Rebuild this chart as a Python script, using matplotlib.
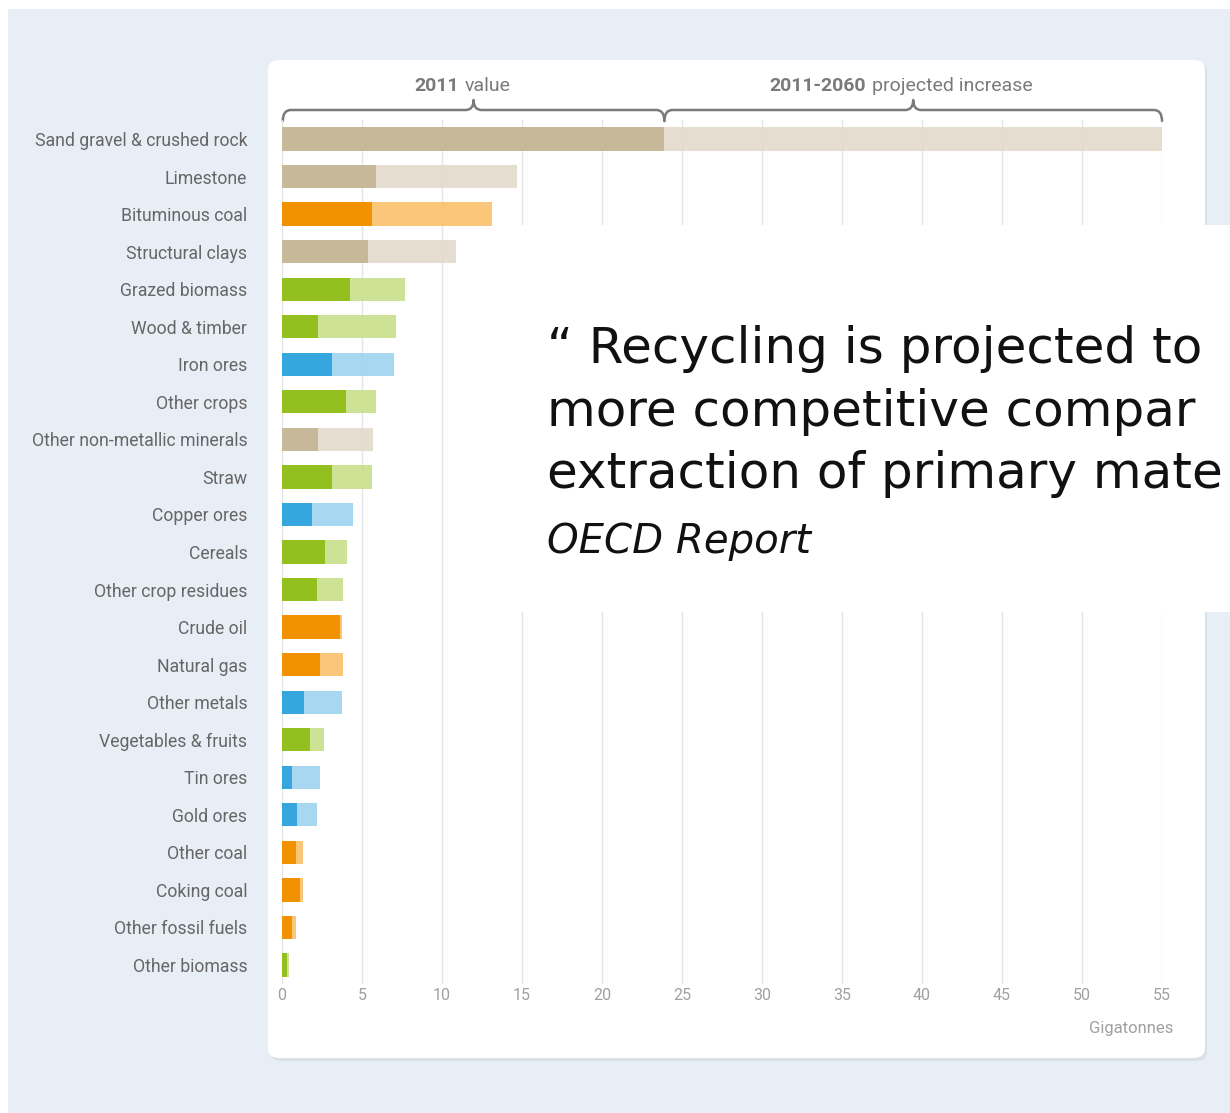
import matplotlib
matplotlib.use("Agg")
import matplotlib.pyplot as plt
from matplotlib.patches import FancyBboxPatch, Rectangle, PathPatch
from matplotlib.path import Path
from matplotlib import transforms

W, H = 1230, 1113

# Global material extraction, Gt: 2011 level and projected 2060 level
materials = [
    "Sand gravel & crushed rock", "Limestone", "Bituminous coal", "Structural clays",
    "Grazed biomass", "Wood & timber", "Iron ores", "Other crops",
    "Other non-metallic minerals", "Straw", "Copper ores", "Cereals",
    "Other crop residues", "Crude oil", "Natural gas", "Other metals",
    "Vegetables & fruits", "Tin ores", "Gold ores", "Other coal",
    "Coking coal", "Other fossil fuels", "Other biomass",
]
value_2011 = [23.9, 5.9, 5.6, 5.4, 4.25, 2.25, 3.1, 4.0, 2.25, 3.1, 1.9, 2.7,
              2.2, 3.6, 2.35, 1.35, 1.75, 0.6, 0.95, 0.9, 1.1, 0.65, 0.3]
value_2060 = [55.0, 14.7, 13.1, 10.9, 7.7, 7.1, 7.0, 5.9, 5.7, 5.6, 4.45, 4.05,
              3.8, 3.75, 3.8, 3.75, 2.6, 2.35, 2.2, 1.3, 1.3, 0.9, 0.45]
group = ["minerals", "minerals", "fossil", "minerals", "biomass", "biomass", "metals",
         "biomass", "minerals", "biomass", "metals", "biomass", "biomass", "fossil",
         "fossil", "metals", "biomass", "metals", "metals", "fossil", "fossil",
         "fossil", "biomass"]
ticks = [0, 5, 10, 15, 20, 25, 30, 35, 40, 45, 50, 55]

dark = {"minerals": "#c8b89a", "fossil": "#f39200", "biomass": "#93c01f", "metals": "#36a6de"}
light = {"minerals": "#e3dacb", "fossil": "#f9c16f", "biomass": "#c9e08b", "metals": "#a1d4f1"}

NARROW = ["Roboto", "DejaVu Sans"]
GREY = "#666666"

fig = plt.figure(figsize=(W / 100, H / 100), dpi=100, facecolor="white")


def fx(px):
    return px / W


def fy(py):
    return 1 - py / H


# page background and white card
fig.patches.append(Rectangle((fx(8), 0), 1, fy(9), transform=fig.transFigure,
                             facecolor="#e7eef6", edgecolor="none", zorder=-3))
fig.patches.append(FancyBboxPatch((fx(270), fy(1061)), fx(937), (1061 - 62) / H,
                                  boxstyle="round,pad=0,rounding_size=0.009",
                                  transform=fig.transFigure, facecolor="#d9e0e8",
                                  edgecolor="none", zorder=-2))
fig.patches.append(FancyBboxPatch((fx(268), fy(1058)), fx(937), (1058 - 60) / H,
                                  boxstyle="round,pad=0,rounding_size=0.009",
                                  transform=fig.transFigure, facecolor="white",
                                  edgecolor="none", zorder=-1))

top, bottom = 120.2, 983.8
ax = fig.add_axes([fx(282), fy(bottom), fx(880), (bottom - top) / H])
ax.set_facecolor("none")

y = list(range(len(materials)))
increase = [b - a for a, b in zip(value_2011, value_2060)]
ax.barh(y, value_2011, height=0.62, color=[dark[g] for g in group], zorder=3)
ax.barh(y, increase, left=value_2011, height=0.62,
        color=[light[g] for g in group], alpha=0.92, zorder=3)

ax.set_xlim(0, 55)
ax.set_ylim(len(materials) - 0.5, -0.5)
ax.set_xticks(ticks)
ax.set_yticks(y)
ax.set_yticklabels(materials, family=NARROW, fontsize=12.7, color=GREY)
ax.set_xticklabels([str(t) for t in ticks], family=NARROW, fontsize=11.5, color="#a0a0a0")
ax.tick_params(axis="y", length=0, pad=25)
ax.tick_params(axis="x", length=0, pad=3)
ax.grid(axis="x", color="#e4e4e4", lw=1, zorder=0)
for s in ax.spines.values():
    s.set_visible(False)

# braces above the first bar: x in data units, y in pixels from the top
ytop = transforms.Affine2D().scale(1, -1).translate(0, H)
btrans = transforms.blended_transform_factory(ax.transData, ytop)


def brace(x0, x1):
    xm = (x0 + x1) / 2
    r = 0.5
    verts = [(x0, 121), (x0, 110), (x0 + r, 110),
             (xm - r, 110), (xm, 110), (xm, 100),
             (xm, 110), (xm + r, 110),
             (x1 - r, 110), (x1, 110), (x1, 121)]
    codes = [Path.MOVETO, Path.CURVE3, Path.CURVE3,
             Path.LINETO, Path.CURVE3, Path.CURVE3,
             Path.CURVE3, Path.CURVE3,
             Path.LINETO, Path.CURVE3, Path.CURVE3]
    ax.add_patch(PathPatch(Path(verts, codes), transform=btrans, facecolor="none",
                           edgecolor="#7a7a7a", lw=1.8, clip_on=False,
                           capstyle="round", joinstyle="round"))
    return xm


m1 = brace(0.05, value_2011[0])
m2 = brace(value_2011[0], value_2060[0])
ax.text(m1 - 0.9, 86, "2011", transform=btrans, ha="right", va="center",
        family=NARROW, fontsize=14, weight="bold", color="#7a7a7a")
ax.text(m1 - 0.55, 86, "value", transform=btrans, ha="left", va="center",
        family=NARROW, fontsize=14, color="#7a7a7a")
ax.text(m2 - 2.95, 86, "2011-2060", transform=btrans, ha="right", va="center",
        family=NARROW, fontsize=14, weight="bold", color="#7a7a7a")
ax.text(m2 - 2.6, 86, "projected increase", transform=btrans, ha="left", va="center",
        family=NARROW, fontsize=14, color="#7a7a7a")

fig.text(fx(1173), fy(1028), "Gigatonnes", ha="right", va="center",
         family=NARROW, fontsize=12, color="#a0a0a0")

# quote box laid over the chart, running off the right edge
fig.patches.append(Rectangle((fx(518), fy(612)), 1, (612 - 225) / H,
                             transform=fig.transFigure, facecolor="white",
                             edgecolor="none", zorder=5))
quote = ["\u201c Recycling is projected to",
         "more competitive compar",
         "extraction of primary mate"]
for line, base in zip(quote, [363, 426, 488]):
    fig.text(fx(547), fy(base), line, ha="left", va="baseline",
             family="DejaVu Sans", fontsize=36, color="#111111", zorder=6)
fig.text(fx(547), fy(553), "OECD Report", ha="left", va="baseline",
         family="DejaVu Sans", style="italic", fontsize=29, color="#111111", zorder=6)

fig.savefig("out.png", dpi=100)
